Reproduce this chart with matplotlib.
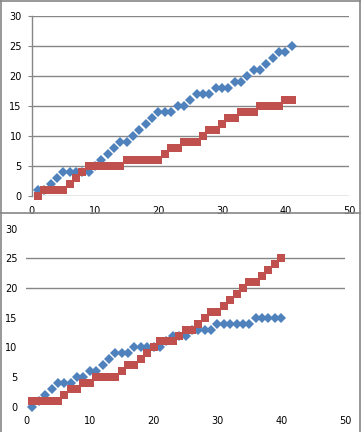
import numpy as np
import matplotlib
matplotlib.use('Agg')
import matplotlib.pyplot as plt
from matplotlib.lines import Line2D

# top chart
top_x = list(range(1, 42))
top_blue = [1, 1, 2, 3, 4, 4, 4, 4, 4, 5,
            6, 7, 8, 9, 9, 10, 11, 12, 13, 14,
            14, 14, 15, 15, 16, 17, 17, 17, 18, 18,
            18, 19, 19, 20, 21, 21, 22, 23, 24, 24, 25]
top_red = [0, 1, 1, 1, 1, 2, 3, 4, 5, 5,
           5, 5, 5, 5, 6, 6, 6, 6, 6, 6,
           7, 8, 8, 9, 9, 9, 10, 11, 11, 12,
           13, 13, 14, 14, 14, 15, 15, 15, 15, 16, 16]

# bottom chart
bot_x = list(range(1, 41))
bot_blue = [0, 1, 2, 3, 4, 4, 4, 5, 5, 6,
            6, 7, 8, 9, 9, 9, 10, 10, 10, 10,
            10, 11, 12, 12, 12, 13, 13, 13, 13, 14,
            14, 14, 14, 14, 14, 15, 15, 15, 15, 15]
bot_red = [1, 1, 1, 1, 1, 2, 3, 3, 4, 4,
           5, 5, 5, 5, 6, 7, 7, 8, 9, 10,
           11, 11, 11, 12, 13, 13, 14, 15, 16, 16,
           17, 18, 19, 20, 21, 21, 22, 23, 24, 25]

yticks = [0, 5, 10, 15, 20, 25, 30]
xticks = [0, 10, 20, 30, 40, 50]

BLUE = '#4F81BD'
RED = '#C0504D'
GRID = '#868686'

W, H = 361, 432
fig = plt.figure(figsize=(W / 100, H / 100), dpi=100)


def fx(px):
    return px / W


def fy(py):
    return 1 - py / H


def setup(ax, grid_vals, show_left):
    ax.set_xlim(0, 50)
    ax.set_ylim(0, 30)
    ax.set_xticks(xticks)
    ax.set_yticks(yticks)
    for s in ax.spines.values():
        s.set_visible(False)
    if show_left:
        ax.spines['left'].set_visible(True)
        ax.spines['left'].set_color(GRID)
        ax.spines['left'].set_linewidth(1)
    for v in grid_vals:
        ax.axhline(v, color=GRID, lw=1, zorder=1)
    ax.tick_params(axis='both', labelsize=7, colors='black', length=0)
    ax.tick_params(axis='x', pad=7)
    ax.tick_params(axis='y', pad=6)
    ax.patch.set_alpha(0)


def draw(ax, xs, blue, red):
    ax.plot(xs, blue, 'D', color=BLUE, markersize=5.6, markeredgewidth=0,
            zorder=3, clip_on=False)
    ax.plot(xs, red, 's', color=RED, markersize=5.6, markeredgewidth=0,
            zorder=4, clip_on=False)


# top axes: x 0..50 -> px 31.5..349, y 0..30 -> py 196..16
ax1 = fig.add_axes([fx(31.5), fy(196), fx(349) - fx(31.5), fy(16) - fy(196)])
setup(ax1, [0, 5, 10, 15, 20, 25, 30], True)
ax1.tick_params(axis='y', length=3, color=GRID, pad=4)
draw(ax1, top_x, top_blue, top_red)

# bottom axes: x 0..50 -> px 26..345, y 0..30 -> py 406.7..228.7
ax2 = fig.add_axes([fx(26), fy(406.7), fx(345) - fx(26), fy(228.7) - fy(406.7)])
setup(ax2, [20, 25], False)
draw(ax2, bot_x, bot_blue, bot_red)

# panel frame lines
for (x0, y0, x1, y1) in [(0.5, 0.5, 359.5, 0.5), (0.5, 0, 0.5, H),
                         (359.5, 0, 359.5, H), (0, 213, 360, 213)]:
    fig.add_artist(Line2D([fx(x0), fx(x1)], [fy(y0), fy(y1)], color=GRID, lw=1.2))

fig.savefig('out.png', dpi=100)
